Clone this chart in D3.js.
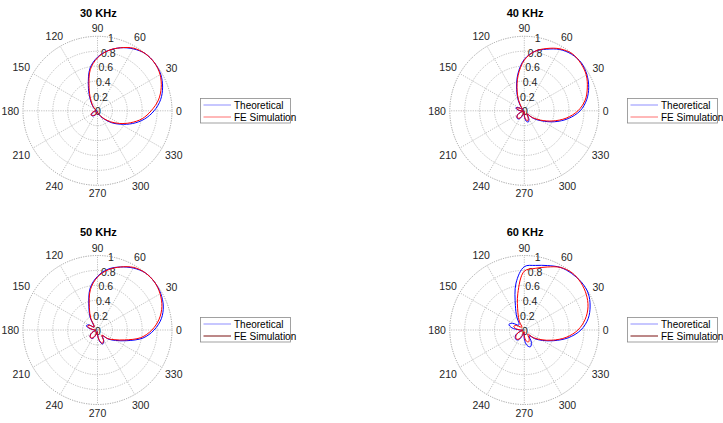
<!DOCTYPE html>
<html><head><meta charset="utf-8">
<script src="https://cdn.jsdelivr.net/npm/d3@7"></script>
<style>
body{margin:0;background:#fff;}
svg{display:block;font-family:"Liberation Sans",Arial,Helvetica,sans-serif;}
</style></head>
<body><svg id="c" width="723" height="423"></svg>
<script>
const thetaDeg = [0,10,20,30,40,50,60,70,80,90,100,110,120,130,140,150,160,170,180,190,200,210,220,230,240,250,260,270,280,290,300,310,320,330,340,350];
const titles = ["30 KHz","40 KHz","50 KHz","60 KHz"];
const seriesNames = ["Theoretical","FE Simulation"];
const thetaTicks = [0,30,60,90,120,150,180,210,240,270,300,330];
const rTicks = [0,0.2,0.4,0.6,0.8,1];
const rTickLabels = ["0","0.2","0.4","0.6","0.8","1"];

const theo30 = [0.76,0.86,0.93,0.98,1.00,1.00,0.96,0.90,0.82,0.72,0.58,0.36,0.21,0.12,0.07,0.04,0.02,0.01,0.02,0.04,0.07,0.09,0.10,0.09,0.07,0.04,0.01,0.02,0.03,0.05,0.09,0.15,0.25,0.36,0.50,0.64];
const fe30   = [0.72,0.83,0.91,0.97,1.00,1.00,0.97,0.90,0.82,0.71,0.56,0.33,0.19,0.11,0.06,0.03,0.02,0.02,0.03,0.05,0.08,0.10,0.10,0.08,0.06,0.03,0.01,0.02,0.03,0.05,0.08,0.14,0.23,0.34,0.47,0.61];
const theo40 = [0.75,0.85,0.92,0.97,1.00,0.99,0.95,0.88,0.81,0.69,0.50,0.30,0.16,0.07,0.03,0.08,0.12,0.10,0.05,0.01,0.05,0.10,0.13,0.14,0.12,0.06,0.01,0.07,0.14,0.16,0.12,0.06,0.16,0.27,0.43,0.60];
const fe40   = [0.72,0.83,0.90,0.96,0.99,1.00,0.96,0.89,0.81,0.68,0.48,0.28,0.14,0.06,0.03,0.07,0.11,0.09,0.04,0.01,0.05,0.10,0.13,0.13,0.11,0.05,0.01,0.06,0.12,0.14,0.10,0.05,0.14,0.25,0.40,0.57];
const theo50 = [0.76,0.87,0.94,0.98,1.00,1.00,0.96,0.90,0.83,0.72,0.57,0.34,0.20,0.08,0.06,0.14,0.16,0.10,0.04,0.02,0.06,0.10,0.13,0.14,0.13,0.08,0.02,0.06,0.15,0.20,0.17,0.10,0.19,0.28,0.42,0.62];
const fe50   = [0.73,0.84,0.92,0.97,1.00,1.00,0.97,0.90,0.82,0.71,0.55,0.32,0.18,0.07,0.06,0.13,0.14,0.09,0.03,0.02,0.06,0.10,0.13,0.14,0.12,0.07,0.02,0.06,0.14,0.19,0.16,0.09,0.18,0.26,0.39,0.59];
const theo60 = [0.76,0.87,0.94,0.99,1.00,0.99,0.97,0.92,0.88,0.85,0.64,0.35,0.20,0.11,0.10,0.18,0.22,0.17,0.06,0.02,0.07,0.13,0.16,0.17,0.15,0.08,0.03,0.12,0.21,0.24,0.19,0.10,0.18,0.28,0.42,0.60];
const fe60   = [0.72,0.83,0.91,0.96,0.99,1.00,0.97,0.90,0.84,0.79,0.50,0.25,0.13,0.05,0.06,0.12,0.15,0.12,0.05,0.02,0.07,0.12,0.15,0.16,0.14,0.08,0.02,0.08,0.15,0.17,0.13,0.07,0.16,0.26,0.40,0.57];

const theoAll = [theo30, theo40, theo50, theo60];
const feAll = [fe30, fe40, fe50, fe60];
const legendColors = [["#8f8fff","#ff7070"],["#8f8fff","#ff7070"],["#8f8fff","#7a1010"],["#8f8fff","#7a1010"]];

const svg = d3.select("#c");
const R = 74.5;
const centers = [[97.5,110.8],[524.3,110.8],[97.5,330],[524.3,330]];
const legendPos = [[200,98],[627,98],[200,317],[627,317]];

const rScale = d3.scaleLinear().domain([0,1]).range([0,R]);
const toRad = d => (90 - d) * Math.PI / 180; // d3 radial angle: clockwise from top

titles.forEach((t,i)=>{
  const [cx,cy] = centers[i];
  const g = svg.append("g").attr("transform",`translate(${cx},${cy})`);
  rTicks.slice(1).forEach(v=>{
    g.append("circle").attr("r",rScale(v)).attr("fill","none")
      .attr("stroke", v===1 ? "#8a8a8a" : "#b0b0b0")
      .attr("stroke-width",0.8)
      .attr("stroke-dasharray","1.2,1.2");
  });
  thetaTicks.forEach(a=>{
    const ang = a*Math.PI/180;
    g.append("line").attr("x1",0).attr("y1",0)
      .attr("x2",rScale(1)*Math.cos(ang)).attr("y2",-rScale(1)*Math.sin(ang))
      .attr("stroke","#b0b0b0").attr("stroke-width",0.8).attr("stroke-dasharray","1.2,1.2");
  });
  thetaTicks.forEach(a=>{
    const ang = a*Math.PI/180;
    const txt = String(a);
    const hw = txt.length*2.9, hh = 4;
    const d = R + 4 + hw*Math.abs(Math.cos(ang)) + hh*Math.abs(Math.sin(ang));
    g.append("text").attr("x",d*Math.cos(ang)).attr("y",-d*Math.sin(ang))
      .attr("text-anchor","middle").attr("dominant-baseline","central")
      .attr("font-size",10.5).attr("fill","#262626").text(txt);
  });
  rTicks.forEach((v,k)=>{
    const ang = 80*Math.PI/180;
    g.append("text").attr("x",rScale(v)*Math.cos(ang)+0.5).attr("y",-rScale(v)*Math.sin(ang)+0.5)
      .attr("text-anchor","middle").attr("dominant-baseline","central")
      .attr("font-size",10.5).attr("fill","#262626").text(rTickLabels[k]);
  });
  const line = d3.lineRadial()
    .angle((d,k)=>toRad(thetaDeg[k]))
    .radius(d=>rScale(d))
    .curve(d3.curveCatmullRomClosed.alpha(0.5));
  g.append("path").attr("d",line(theoAll[i])).attr("fill","none").attr("stroke","#0000ff").attr("stroke-width",1);
  g.append("path").attr("d",line(feAll[i])).attr("fill","none").attr("stroke","#ff0000").attr("stroke-width",1);
  svg.append("text").attr("x",cx+0.8).attr("y",cy-98).attr("text-anchor","middle")
    .attr("dominant-baseline","central").attr("font-size",11).attr("font-weight","bold")
    .attr("fill","#000").text(t);
  const [lx,ly] = legendPos[i];
  const lg = svg.append("g").attr("transform",`translate(${lx},${ly})`);
  lg.append("rect").attr("x",0.5).attr("y",0.5).attr("width",90).attr("height",24.5)
    .attr("fill","#fff").attr("stroke","#8a8a8a").attr("stroke-width",0.8);
  seriesNames.forEach((s,k)=>{
    const yy = 7 + k*12;
    lg.append("line").attr("x1",3.5).attr("x2",31).attr("y1",yy).attr("y2",yy)
      .attr("stroke",legendColors[i][k]).attr("stroke-width",1);
    lg.append("text").attr("x",34).attr("y",yy).attr("dominant-baseline","central")
      .attr("font-size",10).attr("fill","#000").text(s);
  });
});
</script></body></html>
